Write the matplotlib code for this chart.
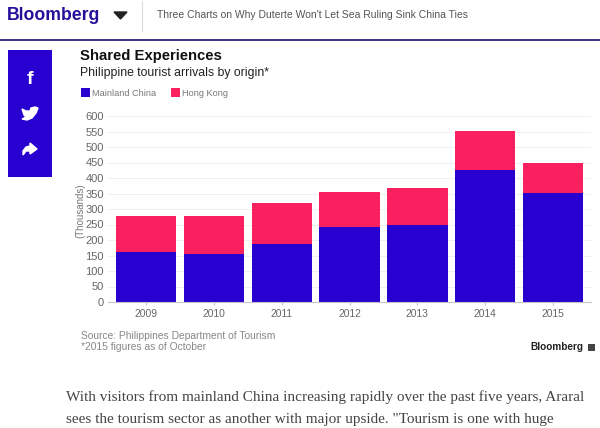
import numpy as np
import matplotlib.pyplot as plt
from matplotlib.patches import Rectangle, Polygon

years = ["2009", "2010", "2011", "2012", "2013", "2014", "2015"]
mainland = [162, 155, 186, 242, 250, 426, 353]
hong_kong = [116, 121, 134, 113, 119, 125, 95]
yticks = [0, 50, 100, 150, 200, 250, 300, 350, 400, 450, 500, 550, 600]

BLUE = "#2800d0"
PINK = "#f9205f"
GREY = "#77777c"
W, H = 600, 428

plt.rcParams['font.family'] = ['Liberation Sans', 'DejaVu Sans']

fig = plt.figure(figsize=(6, 4.28), dpi=100)


def px_text(x, y, s, **kw):
    # pixel coords, y measured from the top
    return fig.text(x / W, 1 - y / H, s, va='center', **kw)


# page header
px_text(7, 15, "Bloomberg", fontsize=12.7, fontweight='bold', color="#24109a")
px_text(157, 15, "Three Charts on Why Duterte Won't Let Sea Ruling Sink China Ties",
        fontsize=7.5, color="#555555")
fig.add_artist(plt.Line2D([0, 1], [1 - 39.5 / H] * 2, color="#1d0f6b", lw=1.2))
fig.add_artist(plt.Line2D([141.5 / W] * 2, [1 - 1 / H, 1 - 31 / H], color="#dddddd", lw=0.8))
fig.add_artist(Polygon([(114 / W, 1 - 12 / H), (127 / W, 1 - 12 / H), (120.5 / W, 1 - 19 / H)],
                       transform=fig.transFigure, color="#222222"))

# share sidebar
fig.add_artist(Rectangle((8 / W, 1 - 177 / H), 44 / W, 127 / H, transform=fig.transFigure,
                         color=BLUE, lw=0))
px_text(30, 79, "f", fontsize=14, fontweight='bold', color="white", ha='center')
fig.add_artist(Polygon([(x / W, 1 - y / H) for x, y in
                        [(22, 109), (26, 111), (30, 111), (31, 108), (35, 107), (38, 108),
                         (36, 113), (32, 118), (27, 120), (22, 119), (26, 117), (24, 115), (23, 112)]],
                       transform=fig.transFigure, color="white"))
fig.add_artist(Polygon([(x / W, 1 - y / H) for x, y in
                        [(30, 143), (37, 149), (30, 154), (30, 151), (26, 151), (23, 155),
                         (23, 151), (26, 147), (30, 146)]],
                       transform=fig.transFigure, color="white"))

# chart titles and legend
px_text(80, 56, "Shared Experiences", fontsize=10.7, fontweight='bold', color="#111111")
px_text(80, 73, "Philippine tourist arrivals by origin*", fontsize=8.8, color="#222222")
fig.add_artist(Rectangle((81 / W, 1 - 97 / H), 9 / W, 9 / H, transform=fig.transFigure,
                         color=BLUE, lw=0))
px_text(92, 93, "Mainland China", fontsize=6.6, color=GREY)
fig.add_artist(Rectangle((171 / W, 1 - 97 / H), 9 / W, 9 / H, transform=fig.transFigure,
                         color=PINK, lw=0))
px_text(182, 93, "Hong Kong", fontsize=6.6, color=GREY)

# bars
ax = fig.add_axes([108 / W, 1 - 302 / H, 483 / W, 186 / H])
x = np.arange(len(years))
ax.bar(x, mainland, 0.89, color=BLUE)
ax.bar(x, hong_kong, 0.89, bottom=mainland, color=PINK)

ax.set_xlim(-0.563, 6.56)
ax.set_ylim(0, 600)
ax.set_xticks(x, years)
ax.set_yticks(yticks)
ax.grid(axis='y', color="#f0f0f0", lw=0.7)
ax.set_axisbelow(True)
for side in ['top', 'right', 'left']:
    ax.spines[side].set_visible(False)
ax.spines['bottom'].set_color("#c4c4cc")
ax.tick_params(axis='y', length=0, pad=3, labelsize=8, labelcolor="#66666a")
ax.tick_params(axis='x', length=2, color="#c4c4cc", pad=3, labelsize=7.4, labelcolor="#66666a")
px_text(80, 211, "(Thousands)", fontsize=7, color=GREY, rotation=90, ha='center')

# source notes
px_text(81, 336, "Source: Philippines Department of Tourism", fontsize=7.4, color="#88888c")
px_text(81, 347, "*2015 figures as of October", fontsize=7.4, color="#88888c")
px_text(583, 347, "Bloomberg", fontsize=7.2, fontweight='bold', color="#222222", ha='right')
fig.add_artist(Rectangle((588 / W, 1 - 351 / H), 7 / W, 7 / H, transform=fig.transFigure,
                         color="#444444", lw=0))

# article text below the chart
px_text(66, 397, "With visitors from mainland China increasing rapidly over the past five years, Araral",
        fontsize=10.95, family=['Liberation Serif', 'DejaVu Serif'], color="#444444")
px_text(66, 420, "sees the tourism sector as another with major upside. \"Tourism is one with huge",
        fontsize=10.95, family=['Liberation Serif', 'DejaVu Serif'], color="#444444")

plt.savefig("out.png", dpi=100)
